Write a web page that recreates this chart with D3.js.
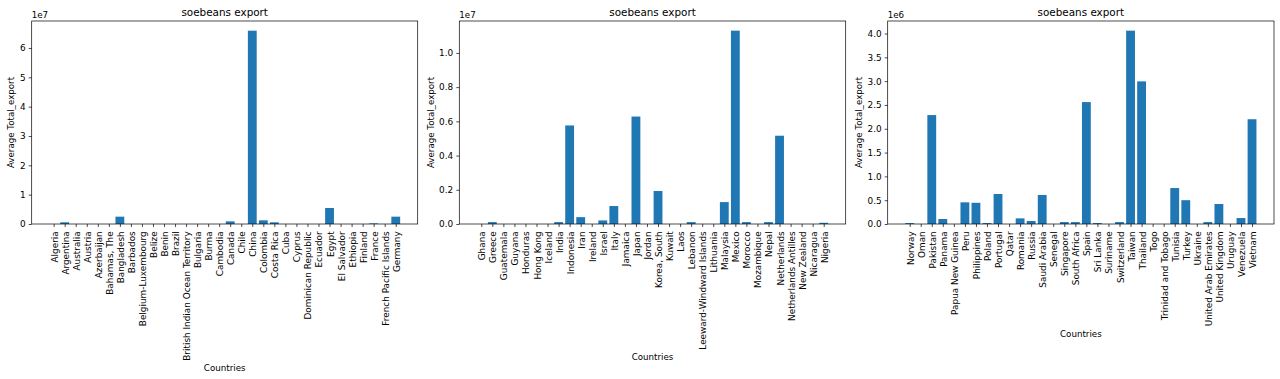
<!DOCTYPE html>
<html>
<head>
<meta charset="utf-8">
<script src="https://cdn.jsdelivr.net/npm/d3@7"></script>
<style>
  html, body { margin: 0; padding: 0; background: #fff; }
  svg { display: block; font-family: "DejaVu Sans", sans-serif; }
</style>
</head>
<body>
<svg id="chart" width="1280" height="379"></svg>
<script>
// ---------- data ----------
const titleText = "soebeans export";
const xLabelText = "Countries";
const yLabelText = "Average Total_export";

const countries1 = ["Algeria", "Argentina", "Australia", "Austria", "Azerbaijan", "Bahamas, The", "Bangladesh", "Barbados", "Belgium-Luxembourg", "Belize", "Benin", "Brazil", "British Indian Ocean Territory", "Bulgaria", "Burma", "Cambodia", "Canada", "Chile", "China", "Colombia", "Costa Rica", "Cuba", "Cyprus", "Dominican Republic", "Ecuador", "Egypt", "El Salvador", "Ethiopia", "Finland", "France", "French Pacific Islands", "Germany"];
const values1 = [0, 580000, 0, 0, 0, 0, 2500000, 0, 0, 0, 0, 0, 0, 0, 0, 0, 900000, 0, 65900000, 1250000, 570000, 0, 0, 0, 0, 5450000, 0, 0, 0, 200000, 0, 2500000];
const ticks1 = [0, 1e7, 2e7, 3e7, 4e7, 5e7, 6e7];
const tickLabels1 = ["0", "1", "2", "3", "4", "5", "6"];
const offset1 = "1e7";

const countries2 = ["Ghana", "Greece", "Guatemala", "Guyana", "Honduras", "Hong Kong", "Iceland", "India", "Indonesia", "Iran", "Ireland", "Israel", "Italy", "Jamaica", "Japan", "Jordan", "Korea, South", "Kuwait", "Laos", "Lebanon", "Leeward-Windward Islands", "Lithuania", "Malaysia", "Mexico", "Morocco", "Mozambique", "Nepal", "Netherlands", "Netherlands Antilles", "New Zealand", "Nicaragua", "Nigeria"];
const values2 = [0, 110000, 0, 0, 0, 0, 0, 110000, 5760000, 400000, 0, 210000, 1050000, 0, 6280000, 0, 1930000, 0, 0, 110000, 0, 0, 1280000, 11300000, 110000, 0, 110000, 5160000, 0, 0, 0, 70000];
const ticks2 = [0, 0.2e7, 0.4e7, 0.6e7, 0.8e7, 1.0e7];
const tickLabels2 = ["0.0", "0.2", "0.4", "0.6", "0.8", "1.0"];
const offset2 = "1e7";

const countries3 = ["Norway", "Oman", "Pakistan", "Panama", "Papua New Guinea", "Peru", "Philippines", "Poland", "Portugal", "Qatar", "Romania", "Russia", "Saudi Arabia", "Senegal", "Singapore", "South Africa", "Spain", "Sri Lanka", "Suriname", "Switzerland", "Taiwan", "Thailand", "Togo", "Trinidad and Tobago", "Tunisia", "Turkey", "Ukraine", "United Arab Emirates", "United Kingdom", "Uruguay", "Venezuela", "Vietnam"];
const values3 = [20000, 0, 2287000, 105000, 0, 455000, 445000, 20000, 630000, 0, 118000, 63000, 610000, 0, 40000, 40000, 2560000, 20000, 0, 40000, 4060000, 2995000, 0, 0, 755000, 500000, 0, 40000, 420000, 0, 125000, 2200000];
const ticks3 = [0, 0.5e6, 1.0e6, 1.5e6, 2.0e6, 2.5e6, 3.0e6, 3.5e6, 4.0e6];
const tickLabels3 = ["0.0", "0.5", "1.0", "1.5", "2.0", "2.5", "3.0", "3.5", "4.0"];
const offset3 = "1e6";

// ---------- layout ----------
const panels = [
  { cats: countries1, vals: values1, ticks: ticks1, tickLabels: tickLabels1, offset: offset1, left: 31.7, right: 417.7 },
  { cats: countries2, vals: values2, ticks: ticks2, tickLabels: tickLabels2, offset: offset2, left: 459.3, right: 845.7 },
  { cats: countries3, vals: values3, ticks: ticks3, tickLabels: tickLabels3, offset: offset3, left: 887.7, right: 1274.0 }
];
const axTop = 21, axBottom = 224;
const fs = 8.7, tickFs = 8.9, titleFs = 10.4;
const barColor = "#1f77b4";
const tickLen = 3.0, tickPad = 3.1;

const svg = d3.select("#chart");

panels.forEach(p => {
  const n = p.cats.length;
  const span = (n - 1) + 0.8;
  const m = 0.05 * span;
  const x = d3.scaleLinear().domain([-0.4 - m, n - 1 + 0.4 + m]).range([p.left, p.right]);
  const ymax = d3.max(p.vals) * 1.05;
  const y = d3.scaleLinear().domain([0, ymax]).range([axBottom, axTop]);

  const g = svg.append("g");

  // bars
  g.selectAll("rect.bar").data(p.vals).enter().append("rect")
    .attr("class", "bar")
    .attr("x", (d, i) => x(i - 0.4))
    .attr("width", (d, i) => x(i + 0.4) - x(i - 0.4))
    .attr("y", d => y(d))
    .attr("height", d => y(0) - y(d))
    .attr("fill", barColor);

  // x axis
  const xAxis = d3.axisBottom(x)
    .tickValues(d3.range(n))
    .tickFormat(i => p.cats[i])
    .tickSize(tickLen)
    .tickPadding(tickPad);
  const xg = g.append("g").attr("transform", `translate(0,${axBottom})`).call(xAxis);
  xg.select(".domain").remove();
  xg.selectAll(".tick line").attr("stroke", "#000").attr("stroke-width", 0.7);
  xg.selectAll(".tick text")
    .attr("font-size", tickFs)
    .attr("font-family", "DejaVu Sans")
    .attr("fill", "#000")
    .attr("text-anchor", "end")
    .attr("dy", null)
    .attr("y", null)
    .attr("dominant-baseline", "central")
    .attr("transform", `translate(0.5,${tickLen + tickPad + 1.2}) rotate(-90)`);

  // y axis
  const yAxis = d3.axisLeft(y)
    .tickValues(p.ticks)
    .tickFormat((d, i) => p.tickLabels[i])
    .tickSize(tickLen)
    .tickPadding(tickPad);
  const yg = g.append("g").attr("transform", `translate(${p.left},0)`).call(yAxis);
  yg.select(".domain").remove();
  yg.selectAll(".tick line").attr("stroke", "#000").attr("stroke-width", 0.7);
  yg.selectAll(".tick text")
    .attr("font-size", tickFs)
    .attr("font-family", "DejaVu Sans")
    .attr("fill", "#000");

  // frame
  g.append("rect")
    .attr("x", p.left).attr("y", axTop)
    .attr("width", p.right - p.left).attr("height", axBottom - axTop)
    .attr("fill", "none").attr("stroke", "#000").attr("stroke-width", 0.7);

  // title
  g.append("text")
    .attr("x", (p.left + p.right) / 2).attr("y", 16)
    .attr("text-anchor", "middle")
    .attr("font-size", titleFs)
    .attr("fill", "#000")
    .text(titleText);

  // offset text
  g.append("text")
    .attr("x", p.left).attr("y", 18)
    .attr("font-size", fs)
    .attr("fill", "#000")
    .text(p.offset);

  // y label
  const yb = yg.node().getBBox();
  const ylx = p.left + yb.x - 3.5 - 2;
  g.append("text")
    .attr("transform", `translate(${ylx},${(axTop + axBottom) / 2}) rotate(-90)`)
    .attr("text-anchor", "middle")
    .attr("font-size", fs)
    .attr("fill", "#000")
    .text(yLabelText);

  // x label
  const xb = xg.node().getBBox();
  const xly = axBottom + xb.y + xb.height + 3.5 + 7;
  g.append("text")
    .attr("x", (p.left + p.right) / 2).attr("y", xly)
    .attr("text-anchor", "middle")
    .attr("font-size", fs)
    .attr("fill", "#000")
    .text(xLabelText);
});
</script>
</body>
</html>
